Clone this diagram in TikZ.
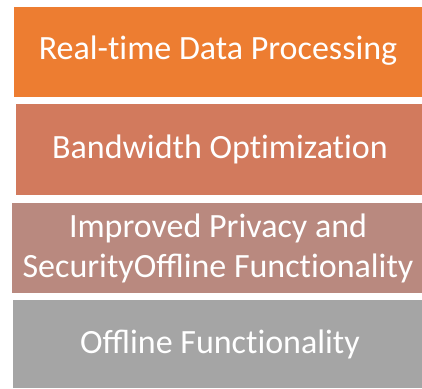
\documentclass[tikz,border=0pt]{standalone}
\usepackage{fontspec}
\setmainfont{Carlito}
\newcommand{\nolig}{\kern0pt }
\definecolor{cA}{HTML}{ED7D31}
\definecolor{cB}{HTML}{D27A5D}
\definecolor{cC}{HTML}{B9897F}
\definecolor{cD}{HTML}{A5A5A5}
\tikzset{
  band/.style={inner sep=0pt, text=white, font=\fontsize{34}{40}\selectfont, align=center},
}
\begin{document}
\begin{tikzpicture}[x=1pt,y=1pt]
\useasboundingbox (0,0) rectangle (422,388);
\fill[cA] (14,388-6.7) rectangle (422,388-96.7);
\fill[cB] (16,388-104) rectangle (422,388-194.7);
\fill[cC] (12,388-202.7) rectangle (422,388-293.3);
\fill[cD] (13,388-300) rectangle (422,0);
\node[band] (a) at (218,388-51) {Real-t\nolig ime Data Processing};
\node[band] (b) at (220,388-149) {Bandwidth Opt\nolig imizat\nolig ion};
\node[band] (c) at (218,388-248) {Improved Privacy and\\SecurityOffline Funct\nolig ionality};
\node[band] (d) at (220,388-344) {Offline Funct\nolig ionality};
\end{tikzpicture}
\end{document}
